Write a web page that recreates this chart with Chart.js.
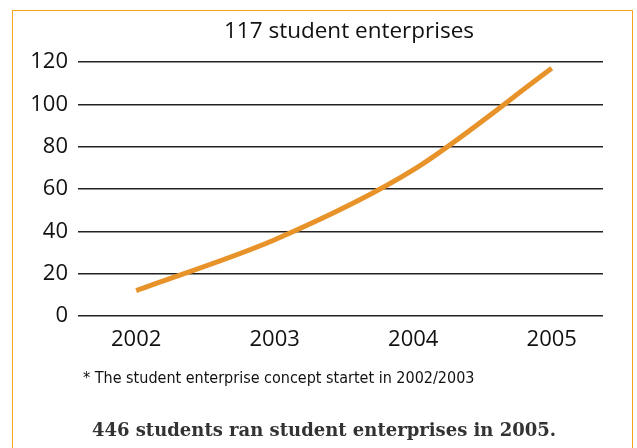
<!DOCTYPE html>
<html><head><meta charset="utf-8">
<script src="https://cdn.jsdelivr.net/npm/chart.js@4/dist/chart.umd.min.js"></script>
<style>
html,body{margin:0;padding:0;background:#fff;width:637px;height:448px;overflow:hidden;}
#wrap{position:relative;width:637px;height:448px;}
#frame{position:absolute;left:12px;top:10px;width:621px;height:460px;border:1.5px solid #F5A31E;box-sizing:border-box;}
canvas{position:absolute;left:0;top:0;}
.t{position:absolute;white-space:nowrap;}
#title{left:0;width:698px;top:14px;text-align:center;font:22.5px "Open Sans",sans-serif;color:#111;}
#note{left:83px;top:368px;font:16px "Liberation Sans Narrow","DejaVu Sans Condensed",sans-serif;color:#111;}
#foot{left:0;width:648px;top:419px;text-align:center;font:bold 18px "DejaVu Serif","Liberation Serif",serif;color:#333;}
</style></head>
<body><div id="wrap">
<div id="frame"></div>
<canvas id="c" width="637" height="448"></canvas>
<div class="t" id="title">117 student enterprises</div>
<div class="t" id="note">* The student enterprise concept startet in 2002/2003</div>
<div class="t" id="foot">446 students ran student enterprises in 2005.</div>
</div>
<script>
const categories = ['2002','2003','2004','2005'];
const enterprises = [12, 36, 69, 117];
const yTicks = [0,20,40,60,80,100,120];

const ctx = document.getElementById('c');
new Chart(ctx, {
  type: 'line',
  data: {
    datasets: [{
      data: categories.map((c,i)=>({x:Number(c), y:enterprises[i]})),
      borderColor: '#E8922A',
      borderWidth: 5,
      pointRadius: 0,
      tension: 0.3,
      fill: false
    }]
  },
  options: {
    responsive: false,
    animation: false,
    layout: {padding: {left: 12, right: 34, top: 62, bottom: 92}},
    plugins: {legend: {display: false}, tooltip: {enabled: false}},
    scales: {
      x: {
        type: 'linear',
        min: 2001.58, max: 2005.37,
        grid: {display: false, drawTicks: false},
        border: {display: false},
        afterBuildTicks: s => { s.ticks = categories.map(c => ({value: Number(c)})); },
        afterFit: s => { s.height = 40; },
        ticks: {padding: 11, color: '#111', font: {family: '"Open Sans", sans-serif', size: 22},
                callback: v => String(v), maxRotation: 0, autoSkip: false}
      },
      y: {
        min: 0, max: 120,
        grid: {color: '#222', lineWidth: 1.5, drawTicks: false},
        border: {display: false},
        afterBuildTicks: s => { s.ticks = yTicks.map(v => ({value: v})); },
        afterFit: s => { s.width = 66; },
        ticks: {padding: 10, color: '#111', font: {family: '"Open Sans", sans-serif', size: 22}}
      }
    }
  }
});
</script>
</body></html>
